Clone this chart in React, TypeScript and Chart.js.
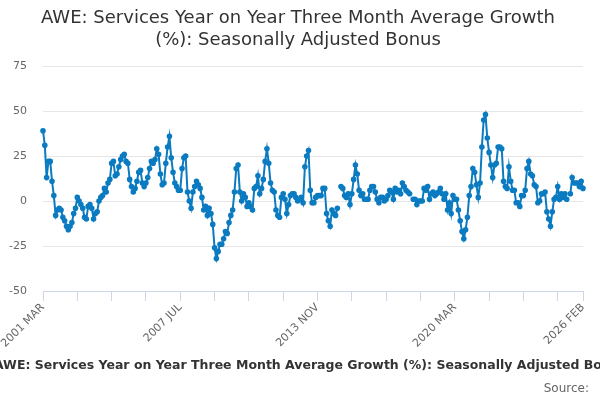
import { useEffect, useRef } from "react"
import { Chart, registerables } from "chart.js"

Chart.register(...registerables)

const TITLE_LINES = ["AWE: Services Year on Year Three Month Average Growth", "(%): Seasonally Adjusted Bonus"]
const SERIES_NAME = "AWE: Services Year on Year Three Month Average Growth (%): Seasonally Adjusted Bonus"
const MONTHS = ["JAN", "FEB", "MAR", "APR", "MAY", "JUN", "JUL", "AUG", "SEP", "OCT", "NOV", "DEC"]

// monthly, 2001 MAR .. 2026 FEB (300 months)
const START_YEAR = 2001
const START_MONTH = 2
const MONTH_COUNT = 300

const labels: string[] = []
for (let i = 0; i < MONTH_COUNT; i++) {
  const m = START_MONTH + i
  labels.push(`${START_YEAR + Math.floor(m / 12)} ${MONTHS[m % 12]}`)
}

// 2001 MAR .. 2008 MAR
const growth2001 = [
  39, 31, 13, 22, 22, 11, 3, -8, -5, -4,
  -5, -9, -11, -14, -16, -14, -12, -7, -4, 2,
  0, -2, -4, -9, -10, -3, -2, -4, -10, -7,
  -6, 0, 2, 3, 7, 5, 10, 12, 21, 22,
  14, 15, 19, 23, 25, 26, 22, 21, 12, 8,
  5, 7, 11, 16, 17, 10, 8, 10, 13, 18,
  22, 21, 23, 29, 26, 15, 9, 10, 21, 30,
  36, 24, 16, 10, 8, 6, 6, 18, 24, 25,
  5, 0, -4, 5, 8,
]

// 2008 APR .. 2014 OCT
const growth2008 = [
  11, 9, 7, 2, -5, -3, -8, -4, -7, -13,
  -26, -32, -28, -24, -24, -21, -17, -18, -12, -8,
  -5, 5, 18, 20, 5, 0, 4, 2, -3, -1,
  -3, -5, 7, 8, 14, 4, 7, 12, 22, 29,
  21, 10, 6, 5, -5, -8, -9, 2, 4, 1,
  -7, -2, 3, 4, 4, 2, 0, 1, 2, -1,
  19, 25, 28, 6, -1, -1, 2, 3, 3, 3,
  7, 7, -7, -11, -14, -5, -7, -8, -4,
  null,
]

// 2014 DEC .. 2017 OCT
const growth2014 = [
  8, 7, 3, 2, 4, -2, 4, 12, 20, 15,
  6, 3, 4, 1, 1, 1, 6, 8, 8, 5,
  1, -1, 2, 2, 0, 1, 3, 6, 5, 1,
  7, 5, 6, 4, 10, 8, 6, 5, 4,
  null,
]

// 2018 APR .. 2026 FEB
const growth2018 = [
  1, 1, -2, 0, 0, 0, 7, 6, 8, 1,
  4, 5, 3, 4, 5, 7, 4, 1, 4, -5,
  -1, -7, 3, 1, 1, -5, -11, -17, -21, -16,
  -9, 3, 8, 18, 16, 9, 2, 10, 30, 45,
  48, 35, 27, 20, 13, 20, 21, 30, 30, 29,
  11, 8, 7, 19, 11, 6, 6, -1, -1, -3,
  3, 3, 6, 18, 22, 15, 14, 9, 8, -1,
  0, 4, 4, 5, -6, -10, -14, -6, 1, 2,
  8, 1, 4, 2, 4, 1, null, 4, 13, 10,
  10, 10, 8, 11, 7,
]

const values: (number | null)[] = [...growth2001, ...growth2008, ...growth2014, ...growth2018]

const tickEvery = 19
const labelledTicks = [0, 76, 152, 228, MONTH_COUNT - 1]

const FONT = "'DejaVu Sans', sans-serif"
const LINE_COLOR = "#0b7bc1"

const textPlugin = {
  id: "texts",
  afterDraw(chart: Chart) {
    const { ctx } = chart
    ctx.save()
    ctx.fillStyle = "#333333"
    ctx.textAlign = "center"
    ctx.textBaseline = "middle"
    ctx.font = `18px ${FONT}`
    ctx.fillText(TITLE_LINES[0], 298, 18)
    ctx.fillText(TITLE_LINES[1], 298, 40)

    // legend item, wider than the canvas and clipped like the original
    ctx.font = `bold 12.5px ${FONT}`
    ctx.textAlign = "left"
    ctx.fillText(SERIES_NAME, -6, 366)

    ctx.font = `12px ${FONT}`
    ctx.fillStyle = "#666666"
    ctx.textAlign = "right"
    ctx.fillText("Source:", 589, 389)
    ctx.restore()
  },
}

export default function App() {
  const canvasRef = useRef<HTMLCanvasElement>(null)

  useEffect(() => {
    if (!canvasRef.current) return
    const chart = new Chart(canvasRef.current, {
      type: "line",
      data: {
        labels,
        datasets: [
          {
            label: SERIES_NAME,
            data: values,
            borderColor: LINE_COLOR,
            backgroundColor: LINE_COLOR,
            borderWidth: 2,
            pointRadius: 1.8,
            pointHoverRadius: 3,
            spanGaps: false,
            tension: 0,
          },
        ],
      },
      options: {
        responsive: true,
        maintainAspectRatio: false,
        animation: false,
        layout: { padding: { top: 66, right: 17, left: 0, bottom: 0 } },
        plugins: {
          legend: { display: false },
          title: { display: false },
          tooltip: { enabled: false },
        },
        scales: {
          x: {
            afterFit(scale: any) {
              scale.height = 109
            },
            afterBuildTicks(scale: any) {
              const ticks = []
              for (let v = 0; v < MONTH_COUNT - 1; v += tickEvery) ticks.push({ value: v })
              ticks.push({ value: MONTH_COUNT - 1 })
              scale.ticks = ticks
            },
            grid: {
              display: true,
              drawOnChartArea: false,
              drawTicks: true,
              tickLength: 10,
              color: "#ccd6eb",
            },
            border: { display: true, color: "#ccd6eb", width: 1 },
            ticks: {
              autoSkip: false,
              minRotation: 45,
              maxRotation: 45,
              color: "#666666",
              font: { family: FONT, size: 11 },
              padding: 0,
              callback: (value: any) => (labelledTicks.includes(value) ? labels[value] : ""),
            },
          },
          y: {
            min: -50,
            max: 75,
            afterFit(scale: any) {
              scale.width = 43
            },
            grid: { color: "#e6e6e6", drawTicks: false },
            border: { display: false },
            ticks: {
              stepSize: 25,
              color: "#666666",
              font: { family: FONT, size: 11 },
              padding: 16,
            },
          },
        },
      },
      plugins: [textPlugin],
    })
    return () => chart.destroy()
  }, [])

  return (
    <div style={{ position: "fixed", left: 0, top: 0, width: 600, height: 400, background: "#fff" }}>
      <canvas ref={canvasRef}></canvas>
    </div>
  )
}
